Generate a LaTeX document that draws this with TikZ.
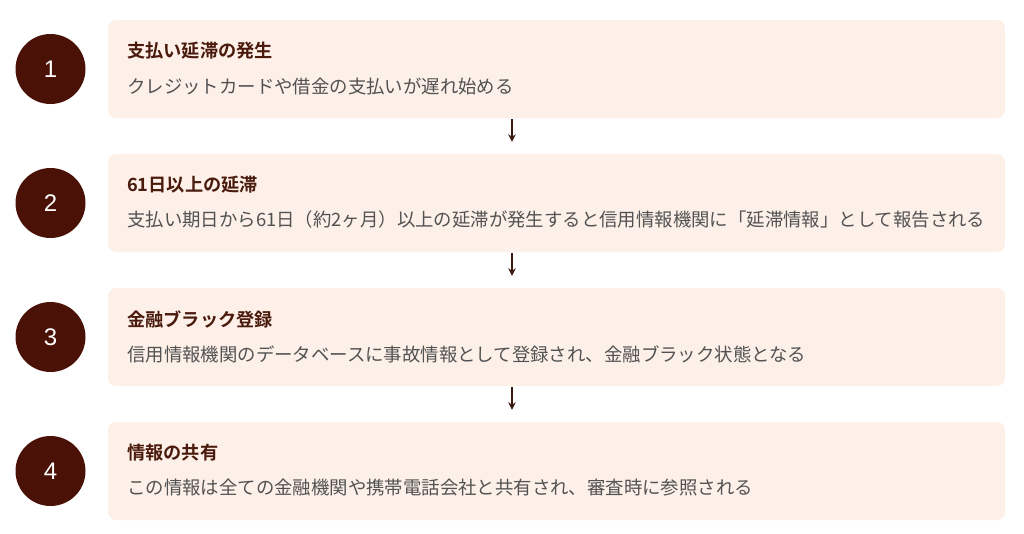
\documentclass[tikz,border=0pt]{standalone}
\usepackage{fontspec}
\setmainfont{Noto Sans CJK JP}[BoldFont={Noto Sans CJK JP Bold}]
\newfontfamily\digitfont{Liberation Sans}
\usetikzlibrary{arrows.meta}
\definecolor{circ}{HTML}{4A1206}
\definecolor{ttl}{HTML}{4A1A0C}
\definecolor{bodyc}{HTML}{525252}
\definecolor{boxf}{HTML}{FDF0E9}
\definecolor{arrc}{HTML}{3A1A10}
\tikzset{
  stepbox/.style={fill=boxf, draw=none, rounded corners=8pt, minimum width=897pt, minimum height=98pt, inner sep=0pt},
  numc/.style={circle, fill=circ, minimum size=70pt, inner sep=0pt, text=white, font=\digitfont\fontsize{24}{28}\selectfont},
  ttltext/.style={anchor=west, inner sep=0pt, text=ttl, font=\fontsize{18.2}{22}\selectfont\bfseries},
  bodytext/.style={anchor=west, inner sep=0pt, text=bodyc, font=\fontsize{18.4}{22}\selectfont},
  arr/.style={draw=arrc, line width=1.4pt, -{Stealth[length=7.5pt,width=7.5pt]}}
}
\begin{document}
\begin{tikzpicture}[x=1pt,y=-1pt]
\useasboundingbox (0,0) rectangle (1024,533);
\coordinate (ax) at (512,0);
% step 1
\node[stepbox] (b1) at (556.5,69) {};
\node[numc] (c1) at (50.5,69) {1};
\node[ttltext] (t1) at (127,51) {支払い延滞の発生};
\node[bodytext] (d1) at (127,86) {クレジットカードや借金の支払いが遅れ始める};
% step 2
\node[stepbox] (b2) at (556.5,203) {};
\node[numc] (c2) at (50.5,203) {2};
\node[ttltext] (t2) at (127,185) {61日以上の延滞};
\node[bodytext] (d2) at (127,220) {支払い期日から61日（約2ヶ月）以上の延滞が発生すると信用情報機関に「延滞情報」として報告される};
% step 3
\node[stepbox] (b3) at (556.5,337) {};
\node[numc] (c3) at (50.5,337) {3};
\node[ttltext] (t3) at (127,319) {金融ブラック登録};
\node[bodytext] (d3) at (127,354) {信用情報機関のデータベースに事故情報として登録され、金融ブラック状態となる};
% step 4
\node[stepbox] (b4) at (556.5,471) {};
\node[numc] (c4) at (50.5,471) {4};
\node[ttltext] (t4) at (127,453) {情報の共有};
\node[bodytext] (d4) at (127,488) {この情報は全ての金融機関や携帯電話会社と共有され、審査時に参照される};
% arrows
\draw[arr] ([yshift=-1pt]b1.south -| ax) -- ([yshift=12pt]b2.north -| ax);
\draw[arr] ([yshift=-1pt]b2.south -| ax) -- ([yshift=12pt]b3.north -| ax);
\draw[arr] ([yshift=-1pt]b3.south -| ax) -- ([yshift=12pt]b4.north -| ax);
\end{tikzpicture}
\end{document}
